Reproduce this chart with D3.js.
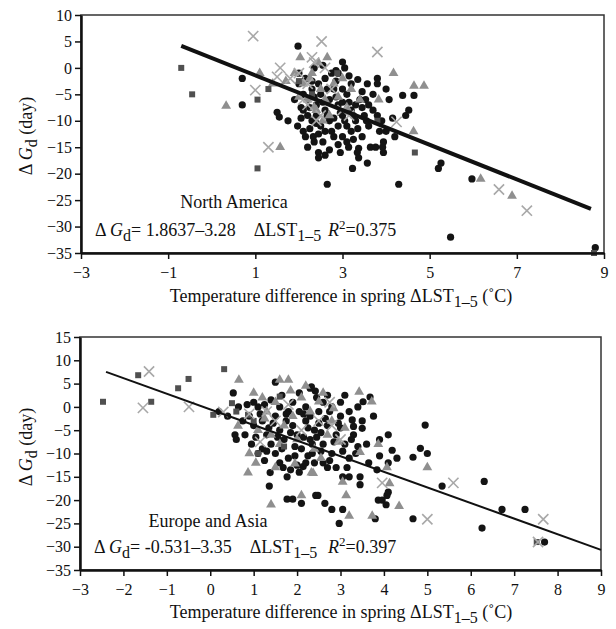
<!DOCTYPE html>
<html>
<head>
<meta charset="utf-8">
<script src="https://d3js.org/d3.v7.min.js"></script>
<style>
  body { margin: 0; background: #fff; }
  svg text { font-family: "Liberation Serif", "Times New Roman", serif; fill: #111; white-space: pre; }
</style>
</head>
<body>
<div id="chart"></div>
<script>
// ---- North America (top panel) ----
const naCircles = [[0.7,-2],[0.7,-7],[1.98,4.1],[1.5,-8.4],[1.55,-9.3],[1.97,-11],[2.1,-12],[2.2,-15],[2.35,-14],[2.45,-16],[2.45,-17],[2.55,-14],[2.8,-13],[3.0,-13],[2.33,-13],
  [3.0,1.1],[3.05,0],[3.35,-2.2],[3.57,-3],[3.8,-2],[3.8,-3],[4.07,-6],[4.38,-5.2],[4.64,-5.2],[4.52,-8],[4.45,-9],[3.53,-6],[3.4,-6],
  [3.14,-15],[3.37,-15.2],[3.64,-15],[3.92,-15],[3.94,-14],[3.45,-13],[3.34,-16],[3.37,-17],[3.57,-18],[3.23,-19],[3.76,-15],[3.94,-16],[2.65,-22],[4.29,-22],[5.26,-18],[5.2,-19],[5.97,-21],[5.48,-32],[8.8,-34],
  [2.0,-3],[2.1,-5],[2.2,-6],[2.3,-4],[2.4,-7],[2.5,-5],[2.6,-8],[2.7,-6],[2.8,-4],[2.9,-7],[3.0,-9],[3.1,-5],[3.2,-8],[2.2,-9],[2.3,-10],[2.5,-11],[2.7,-10],[2.9,-11],[3.1,-11],[3.3,-10],[2.1,-8],[2.0,-1],[2.6,-2],[2.9,-1],[3.2,-3],[3.3,-7],[3.5,-9],[3.7,-8],[3.9,-10],[4.0,-12],[3.6,-11],[3.2,-12],[2.4,-9],[2.6,-12],[2.8,-9.5],[3.0,-4],[2.45,-3],[2.15,-2],[3.15,-1.5],[2.75,-1],[1.9,-6],[2.05,-7.5],[3.45,-4.5],[3.7,-5],[4.0,-4],[2.35,0],[2.55,0.5],[2.85,-2.5],[3.25,-13.5],[2.7,-15.5],[2.95,-16],[1.75,-10],[2.25,-11.5],[3.85,-12],[3.6,-7],[3.0,-6.5],[2.15,-13],[4.2,-13],
  [2.25,-7.5],[2.35,-5.5],[2.55,-6.5],[2.65,-4],[2.85,-5.5],[2.95,-8.5],[3.05,-10],[3.15,-6.5],[3.25,-9],[3.35,-11.5],[2.45,-12.5],[2.75,-12],[2.05,-9.5],[2.4,-10.5],[2.65,-9],[3.45,-7.5],[3.55,-10],[2.9,-14.5],[3.1,-14],[2.6,-16.5],[3.8,-9],[4.15,-9.5],[2.3,-2.5],[2.85,-0.5]];
const naTriangles = [[0.33,-7.2],[1.1,-1],[1.57,-15],[2.03,2],[4.17,-1],[4.64,-3.4],[4.87,-3.4],[4.63,-12],[3.83,-6],[6.17,-21],[6.89,-24.2],
  [1.9,-1],[2.1,-3],[2.3,-1],[2.5,-4],[2.2,-6],[2.4,-8],[2.6,-6],[2.8,-3],[3.0,-2],[3.2,-4],[2.45,1],[2.65,2],[2.0,-5.5],[2.35,-7.5],[2.7,-9],[3.4,-6],[2.55,-10],[3.1,-7.5],[2.25,-2],[1.7,-2.5],[1.4,-3],[2.9,-5.5]];
const naCrosses = [[0.95,6],[1.0,-4.2],[1.3,-15],[2.52,5],[3.8,3],[4.24,-10.2],[6.59,-23],[7.23,-27],[1.57,0],[1.5,-1.7],[2.0,-1],[2.2,-3],[2.5,-9],[2.6,0],[2.3,2],[2.1,-6],[3.0,-8],[1.8,-2],[2.35,1],[2.4,-10],[2.75,-4],[3.15,-9],[2.2,-7]];
const naSquares = [[-0.7,0],[-0.45,-5],[1.3,-4],[1.05,-6],[1.05,-19],[2.88,-1],[3.8,-10],[4.66,-16],[8.77,-35],[2.3,-5],[2.0,-2.5]];
const naFitCoef = [1.8637, -3.28];
const naFitRange = [-0.7, 8.7];
const naXTicks = [-3, -1, 1, 3, 5, 7, 9];
const naYTicks = [10, 5, 0, -5, -10, -15, -20, -25, -30, -35];

// ---- Europe and Asia (bottom panel) ----
const euCircles = [[0.53,3],[0.57,-6],[0.8,-6],[0.6,-7],[1.5,5.3],[2.3,4],[2.33,4.3],[2.42,3.4],[3.4,0],[3.52,1.1],[3.68,2.1],[3.76,-2],[3.27,-2.8],[3.5,-3],[3.3,-4.2],[3.5,-4.6],[3.3,-6],[4.19,-9.3],[4.95,-3.9],[4.67,-10.8],[4.84,-8.9],[5.0,-10],[3.84,-13.5],[5.34,-17],[6.31,-16],[6.72,-22],[7.25,-22],[6.26,-26],[4.67,-24],[7.7,-29],[2.97,-25],[3.8,-24],[2.48,-19],[2.64,-20.7],[2.8,-22],[3.05,-22],[3.45,-15],[3.45,-16.7],[3.87,-20],[3.96,-20],[4.07,-19],[4.05,-21],[4.1,-18.3],[3.2,-15],[3.05,-15],[1.36,-17],[1.38,-14.1],[1.68,-13],[1.77,-15],[1.77,-19.8],[1.9,-19.8],[2.1,-20.7],[2.43,-19],[2.05,-14],[2.14,-12.8],[2.2,-12],[2.4,-12],
  [0.9,-2],[1.0,-4],[1.1,0],[1.2,-3],[1.3,-6],[1.4,-8],[1.5,-2],[1.6,-5],[1.7,-7],[1.8,-1],[1.9,-4],[2.0,-6],[2.1,-9],[2.2,-3],[2.3,-7],[2.4,-5],[2.5,-1],[2.6,-8],[2.7,-4],[2.8,-10],[2.9,-6],[3.0,-2],[3.1,-8],[3.2,-11],[1.2,-9],[1.5,-10],[1.8,-11],[2.0,-12.5],[2.6,-12],[2.9,-13],[1.0,1],[1.4,1.5],[1.9,1],[2.2,0],[2.6,1],[2.8,0],[3.0,1],[3.2,-1],[1.65,2.5],[2.05,3],[2.7,2.5],[2.5,-3.5],[1.25,-11.5],[1.6,-12],[0.75,-3],[0.95,-8],[1.1,-10],[2.35,-10],[2.75,-11.5],[3.15,-13],[3.35,-10],[3.6,-8],[3.65,-12],[3.9,-10.5],[3.9,-7],[4.1,-12],[4.3,-11],[4.1,-6],[1.35,-4.5],[1.75,-3],[2.15,-1.5],[2.45,-6.5],[3.0,-4.5],[0.4,-2],[0.2,-1],[0.65,0],
  [1.15,-1.5],[1.45,-3.5],[1.55,-6.5],[1.85,-5.5],[1.95,-8.5],[2.05,-1],[2.25,-4.5],[2.35,-8],[2.55,-5.5],[2.65,-2.5],[2.85,-7.5],[2.95,-3.5],[3.05,-9.5],[3.25,-7],[1.05,-6.5],[1.3,-9.5],[1.65,-9],[1.95,-10.5],[2.25,-10.5],[2.55,-9.5],[2.7,-13],[1.85,-13.5],[2.3,-2],[2.75,-1],[1.6,0],[2.45,2],[3.1,2.5],[1.25,0.5],[0.85,0.5],[3.4,-8.5],[2.15,-6.5],[1.75,-1.5]];
const euTriangles = [[0.66,5.8],[1.6,5.8],[1.8,5.8],[0.64,-4.1],[3.43,3.2],[3.72,1.1],[3.87,-8],[2.84,-0.3],[3.45,-9.7],[2.5,1.1],[4.07,-13],[5.0,-13],[4.13,-16.4],[3.13,-19],[3.2,-23.4],[3.73,-23.4],[4.35,-21.3],[2.37,-14.2],[3.05,-16.1],[0.87,-14.1],[1.4,-21],[1.5,-13],[1.95,-12.2],[2.33,-14.1],[2.1,-19],
  [1.0,3],[1.2,2],[1.3,-1],[1.5,1],[1.7,-4],[1.9,-2],[2.1,2],[2.3,-1],[2.6,3],[2.8,-3],[1.4,-6],[1.6,-8],[2.0,-7],[2.4,-9],[2.7,-6],[1.1,-5],[2.2,4.5],[1.85,3.5],[2.95,-7.5],[0.9,-10],[1.05,-12],[2.55,-11],[3.1,-4.5],[1.25,-2.5]];
const euCrosses = [[-1.41,7.6],[-1.55,-0.2],[-0.49,0],[0.3,-1.1],[3.96,-16.3],[5.6,-16.3],[5.0,-24.1],[7.67,-24.1],[7.55,-29],[1.3,-1],[1.8,0.5],[2.1,-5],[2.5,-3],[3.0,-7],[1.5,-3],[2.8,-4],[0.9,-1.5],[1.15,-7.5],[2.75,1]];
const euSquares = [[-2.47,1.1],[-1.66,6.8],[-1.36,1.1],[-0.74,4],[-0.5,6],[0.32,8.1],[0.07,-1.7],[0.5,0.8],[0.87,-1.7],[1.1,-10],[1.6,2.2],[7.52,-29],[0.6,-1],[1.0,-3],[1.7,-8.5]];
const euFitCoef = [-0.531, -3.35];
const euFitRange = [-2.4, 9];
const euXTicks = [-3, -2, -1, 0, 1, 2, 3, 4, 5, 6, 7, 8, 9];
const euYTicks = [15, 10, 5, 0, -5, -10, -15, -20, -25, -30, -35];

const width = 616, height = 629;
const svg = d3.select('#chart').append('svg')
  .attr('width', width)
  .attr('height', height)
  .attr('font-family', '"Liberation Serif", "Times New Roman", serif');

function drawPanel(p) {
  const g = svg.append('g');
  const x = d3.scaleLinear().domain([-3, 9]).range([p.left, p.right]);
  const y = d3.scaleLinear().domain([-35, p.yTicks[0]]).range([p.bottom, p.top]);

  // frame (top/right thinner)
  g.append('rect')
    .attr('x', p.left).attr('y', p.top)
    .attr('width', p.right - p.left).attr('height', p.bottom - p.top)
    .attr('fill', 'none').attr('stroke', '#333').attr('stroke-width', 1.5);

  // points
  g.append('g').selectAll('circle').data(p.circles).join('circle')
    .attr('cx', d => x(d[0])).attr('cy', d => y(d[1]))
    .attr('r', 3.6).attr('fill', '#141414');
  const tri = d3.symbol().type(d3.symbolTriangle).size(42);
  g.append('g').selectAll('path').data(p.triangles).join('path')
    .attr('transform', d => `translate(${x(d[0])},${y(d[1])})`)
    .attr('d', tri).attr('fill', '#8f8f8f');
  const sq = d3.symbol().type(d3.symbolSquare).size(36);
  g.append('g').selectAll('path').data(p.squares).join('path')
    .attr('transform', d => `translate(${x(d[0])},${y(d[1])})`)
    .attr('d', sq).attr('fill', '#505050');
  const cross = d3.symbol().type(d3.symbolX).size(70);
  g.append('g').selectAll('path').data(p.crosses).join('path')
    .attr('transform', d => `translate(${x(d[0])},${y(d[1])})`)
    .attr('d', cross).attr('fill', 'none').attr('stroke', '#a8a8a8').attr('stroke-width', 1.6);

  // regression line
  const fx = p.fitRange;
  g.append('line')
    .attr('x1', x(fx[0])).attr('y1', y(p.fit[0] + p.fit[1] * fx[0]))
    .attr('x2', x(fx[1])).attr('y2', y(p.fit[0] + p.fit[1] * fx[1]))
    .attr('stroke', '#111').attr('stroke-width', p.lineWidth);

  // axes
  const xAxis = g.append('g')
    .attr('transform', `translate(0,${p.bottom})`)
    .call(d3.axisBottom(x).tickValues(p.xTicks).tickSize(6).tickPadding(8).tickSizeOuter(0));
  const yAxis = g.append('g')
    .attr('transform', `translate(${p.left},0)`)
    .call(d3.axisLeft(y).tickValues(p.yTicks).tickSize(6).tickPadding(3).tickSizeOuter(0));
  [xAxis, yAxis].forEach(a => {
    a.attr('font-family', null);
    a.select('.domain').attr('stroke', '#111').attr('stroke-width', 2.5);
    a.selectAll('.tick line').attr('stroke', '#111').attr('stroke-width', 1.5);
    a.selectAll('.tick text').attr('font-size', 16).attr('fill', '#111');
  });

  // region name
  g.append('text')
    .attr('x', p.nameX).attr('y', p.nameY)
    .attr('text-anchor', 'middle').attr('font-size', 18)
    .text(p.name);

  // equation
  const eq = g.append('text').attr('x', p.left + 14).attr('y', p.eqY).attr('font-size', 18);
  eq.append('tspan').text('\u0394 ');
  eq.append('tspan').attr('font-style', 'italic').text('G');
  eq.append('tspan').attr('dy', 5).attr('font-size', 16).text('d');
  eq.append('tspan').attr('dy', -5).text(p.eqText + '\u2003\u0394LST');
  eq.append('tspan').attr('dy', 5).attr('font-size', 16).text('1\u20135');

  const r2 = g.append('text').attr('x', 328).attr('y', p.eqY).attr('font-size', 18);
  r2.append('tspan').attr('font-style', 'italic').text('R');
  r2.append('tspan').attr('dy', -7).attr('font-size', 13).text('2');
  r2.append('tspan').attr('dy', 7).text('=' + p.r2);

  // x title
  const xt = g.append('text').attr('x', 341).attr('y', p.xTitleY)
    .attr('text-anchor', 'middle').attr('font-size', 18);
  xt.append('tspan').text('Temperature difference in spring \u0394LST');
  xt.append('tspan').attr('dy', 5).attr('font-size', 16).text('1\u20135');
  xt.append('tspan').attr('dy', -5).text(' (\u02DAC)');

  // y title
  const yt = g.append('text')
    .attr('transform', `translate(32,${p.yTitleY}) rotate(-90)`)
    .attr('text-anchor', 'middle').attr('font-size', 18);
  yt.append('tspan').text('\u0394 ');
  yt.append('tspan').attr('font-style', 'italic').text('G');
  yt.append('tspan').attr('dy', 5).attr('font-size', 16).text('d');
  yt.append('tspan').attr('dy', -5).text(' (day)');
}

drawPanel({
  left: 81, right: 604, top: 15, bottom: 253,
  xTicks: naXTicks, yTicks: naYTicks,
  circles: naCircles, triangles: naTriangles, crosses: naCrosses, squares: naSquares,
  fit: naFitCoef, fitRange: naFitRange, lineWidth: 4,
  name: 'North America', nameX: 234, nameY: 208,
  eqText: '= 1.8637\u20133.28', r2: '0.375', eqY: 236,
  xTitleY: 302, yTitleY: 136
});

drawPanel({
  left: 80, right: 601, top: 337, bottom: 570,
  xTicks: euXTicks, yTicks: euYTicks,
  circles: euCircles, triangles: euTriangles, crosses: euCrosses, squares: euSquares,
  fit: euFitCoef, fitRange: euFitRange, lineWidth: 2,
  name: 'Europe and Asia', nameX: 208, nameY: 527,
  eqText: '= -0.531\u20133.35', r2: '0.397', eqY: 553,
  xTitleY: 618, yTitleY: 447
});
</script>
</body>
</html>
